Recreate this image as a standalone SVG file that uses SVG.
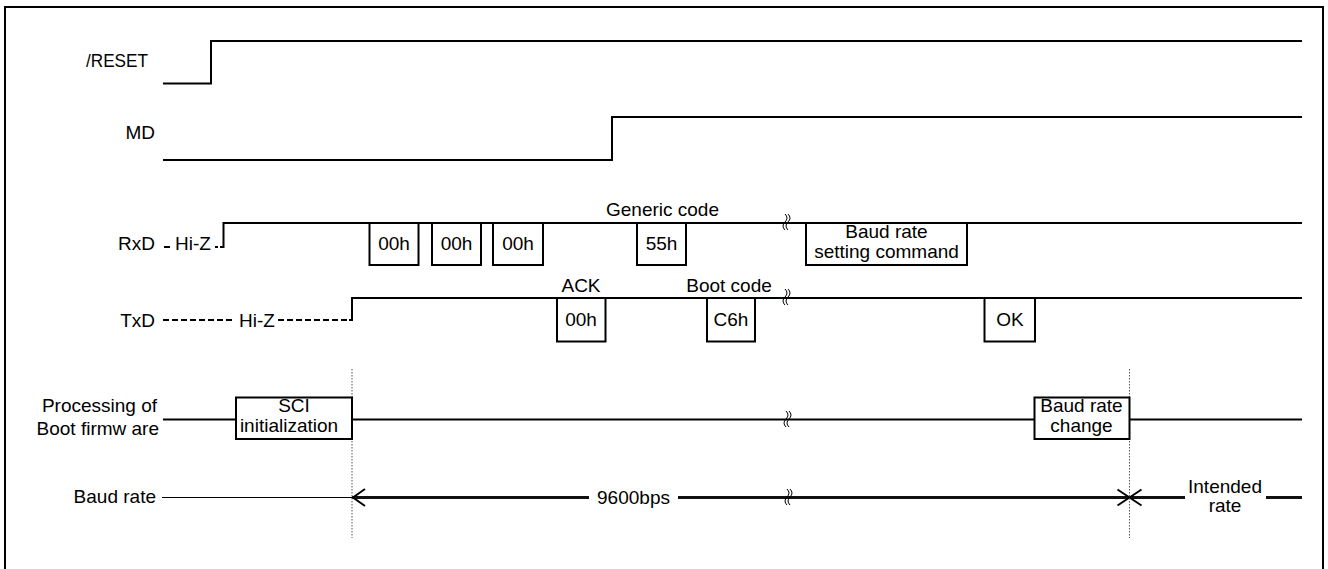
<svg xmlns="http://www.w3.org/2000/svg" xmlns:xlink="http://www.w3.org/1999/xlink" width="1328" height="569" viewBox="0 0 1328 569">
<style>
text{font-family:"Liberation Sans",Arial,sans-serif;font-size:19px;fill:#000}
.lbl{text-anchor:end}
.ctr{text-anchor:middle}
.sig{fill:none;stroke:#000;stroke-width:2}
.box{fill:#fff;stroke:#000;stroke-width:2}
.hiz{fill:none;stroke:#000;stroke-width:2;stroke-dasharray:6 3}
.thin{fill:none;stroke:#000;stroke-width:1}
.thick{fill:none;stroke:#111;stroke-width:3}
.dot{fill:none;stroke:#555;stroke-width:1;stroke-dasharray:1.5 1.5}
.brk{fill:none;stroke:#000;stroke-width:1}
</style>
<defs>
<path id="brk" class="brk" d="M-3,-8 q4,4 0,8 q-4,4 0,8 M0,-8 q4,4 0,8 q-4,4 0,8"/>
</defs>
<rect x="0" y="0" width="1328" height="569" fill="#fff"/>
<rect id="frame" x="5" y="7" width="1318" height="575" fill="none" stroke="#000" stroke-width="2"/>

<g id="labels">
<g id="lbl-reset"><text class="lbl" x="148" y="67" textLength="62" lengthAdjust="spacingAndGlyphs">/RESET</text></g>
<g id="lbl-md"><text class="lbl" x="155" y="139">MD</text></g>
<g id="lbl-rxd"><text class="lbl" x="155" y="250">RxD</text></g>
<g id="lbl-txd"><text class="lbl" x="155" y="327">TxD</text></g>
<g id="lbl-proc"><text class="lbl" x="157" y="412">Processing of</text><text class="lbl" x="159" y="435">Boot firmw are</text></g>
<g id="lbl-baud"><text class="lbl" x="156" y="503">Baud rate</text></g>
</g>

<g id="connectors">
<path class="sig" d="M163,83.5 H211 V41 H1302"/>
<path class="sig" d="M163,160 H612 V117 H1302"/>
<!-- RxD -->
<path class="sig" d="M164,247 H170"/>
<path class="sig" d="M215,247 H218 M220,247 H223.5 V223 H1302"/>
<!-- TxD -->
<path class="hiz" d="M163,320 H233"/>
<path class="hiz" d="M278,320 H350"/>
<path class="sig" d="M349,320 H352 V298 H1302"/>
<!-- Processing -->
<path class="sig" d="M163,419.5 H1302"/>
<!-- Baud rate -->
<path class="thin" d="M162,497.5 H352"/>
<path class="thick" d="M352,497.5 H589 M678,497.5 H1185 M1266,497.5 H1302"/>
<path class="sig" d="M365,489 L353,497.5 L365,506"/>
<path class="sig" d="M1117.5,489.5 L1141.5,505.5 M1117.5,505.5 L1141.5,489.5"/>
<!-- dotted markers -->
<path class="dot" d="M352,369 V538 M1129.5,369 V538"/>
<!-- break marks -->
<use xlink:href="#brk" x="788" y="222"/>
<use xlink:href="#brk" x="788" y="297"/>
<use xlink:href="#brk" x="789" y="419"/>
<use xlink:href="#brk" x="790" y="497"/>
</g>

<g id="hiz-labels">
<text x="175" y="250">Hi-Z</text>
<text x="239" y="327">Hi-Z</text>
</g>

<g id="rx-00h-1"><rect class="box" x="369.5" y="223" width="49" height="42"/><text class="ctr" x="394" y="250">00h</text></g>
<g id="rx-00h-2"><rect class="box" x="432" y="223" width="49" height="42"/><text class="ctr" x="456.5" y="250">00h</text></g>
<g id="rx-00h-3"><rect class="box" x="493" y="223" width="50" height="42"/><text class="ctr" x="518" y="250">00h</text></g>
<g id="rx-55h"><rect class="box" x="637" y="223" width="49" height="42"/><text class="ctr" x="661.5" y="250">55h</text></g>
<g id="lbl-generic"><text class="ctr" x="662.5" y="216">Generic code</text></g>
<g id="rx-baudcmd"><rect class="box" x="806" y="223" width="161" height="42"/><text class="ctr" x="886.5" y="238">Baud rate</text><text class="ctr" x="886.5" y="258">setting command</text></g>

<g id="tx-ack"><rect class="box" x="557" y="298" width="48.5" height="43.5"/><text class="ctr" x="581" y="326">00h</text></g>
<g id="lbl-ack"><text class="ctr" x="581" y="291.5">ACK</text></g>
<g id="tx-c6h"><rect class="box" x="707" y="298" width="48" height="43.5"/><text class="ctr" x="731" y="326">C6h</text></g>
<g id="lbl-bootcode"><text class="ctr" x="729" y="291.5">Boot code</text></g>
<g id="tx-ok"><rect class="box" x="984.5" y="298" width="50.5" height="43.5"/><text class="ctr" x="1010" y="326">OK</text></g>

<g id="proc-sci"><rect class="box" x="236" y="397.5" width="116" height="41.5"/><text class="ctr" x="294" y="412">SCI</text><text class="ctr" x="289" y="432">initialization</text></g>
<g id="proc-baudchg"><rect class="box" x="1034.5" y="397.5" width="95" height="41.5"/><text class="ctr" x="1081.5" y="412">Baud rate</text><text class="ctr" x="1081.5" y="432">change</text></g>

<g id="lbl-9600"><text class="ctr" x="633.5" y="504">9600bps</text></g>
<g id="lbl-intended"><text class="ctr" x="1225" y="493">Intended</text><text class="ctr" x="1225" y="512">rate</text></g>
</svg>
